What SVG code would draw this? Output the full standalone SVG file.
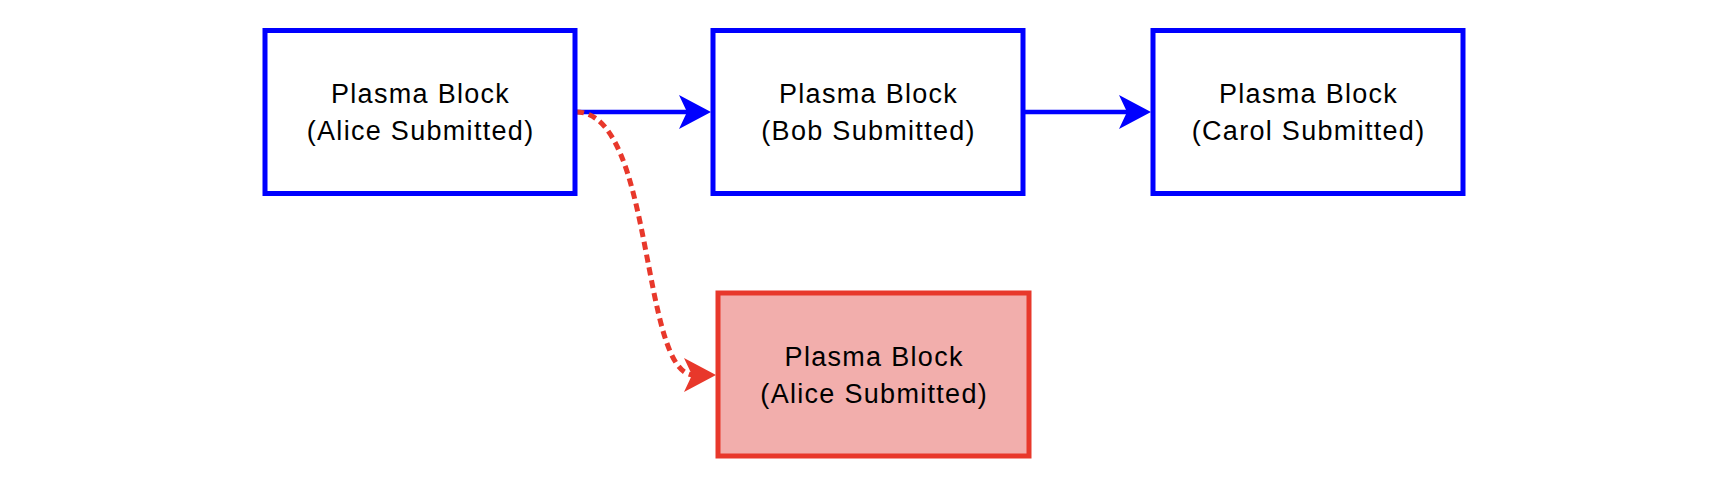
<svg xmlns="http://www.w3.org/2000/svg" width="1728" height="482" viewBox="0 0 1728 482">
<style>
.blk{fill:#fff;stroke:#0000ff;stroke-width:5}
.bad{fill:#f2aeac;stroke:#e8382b;stroke-width:5}
.lbl{font-family:"Liberation Sans",Arial,sans-serif;font-size:27px;letter-spacing:1.3px;fill:#000;text-anchor:middle}
.cb{fill:none;stroke:#0000ff;stroke-width:4.5}
.cr{fill:none;stroke:#e8382b;stroke-width:5;stroke-dasharray:8 5}
</style>
<defs>
<marker id="ab" markerUnits="userSpaceOnUse" viewBox="-36 -20 40 40" markerWidth="40" markerHeight="40" refX="-22" refY="0" orient="auto">
<path d="M0,0 L-32,-17 L-24,0 L-32,17 Z" fill="#0000ff"/>
</marker>
<marker id="ar" markerUnits="userSpaceOnUse" viewBox="-36 -20 40 40" markerWidth="40" markerHeight="40" refX="-22" refY="0" orient="auto">
<path d="M0,0 L-32,-17 L-24,0 L-32,17 Z" fill="#e8382b"/>
</marker>
</defs>
<g id="connectors">
<path class="cb" d="M575,112 L689,112" marker-end="url(#ab)"/>
<path class="cb" d="M1023,112 L1129,112" marker-end="url(#ab)"/>
<path class="cr" d="M576,112 C655,112 640,375 694,375" marker-end="url(#ar)"/>
</g>
<g id="alice">
<rect class="blk" x="265" y="30.5" width="310" height="163"/>
<text class="lbl" x="420.6" y="102.5">Plasma Block</text>
<text class="lbl" x="420.6" y="140">(Alice Submitted)</text>
</g>
<g id="bob">
<rect class="blk" x="713" y="30.5" width="310" height="163"/>
<text class="lbl" x="868.6" y="102.5">Plasma Block</text>
<text class="lbl" x="868.6" y="140">(Bob Submitted)</text>
</g>
<g id="carol">
<rect class="blk" x="1153" y="30.5" width="310" height="163"/>
<text class="lbl" x="1308.6" y="102.5">Plasma Block</text>
<text class="lbl" x="1308.6" y="140">(Carol Submitted)</text>
</g>
<g id="alice2">
<rect class="bad" x="718" y="293" width="311" height="163"/>
<text class="lbl" x="874.2" y="365.5">Plasma Block</text>
<text class="lbl" x="874.2" y="403">(Alice Submitted)</text>
</g>
</svg>
